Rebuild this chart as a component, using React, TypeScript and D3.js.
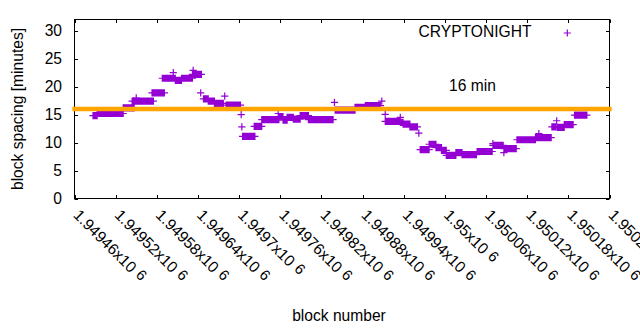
import React from 'react';
import * as d3 from 'd3';

// Runs of consecutive blocks sharing the same spacing value
const runStart = [1949487, 1949493, 1949531, 1949544, 1949573, 1949588, 1949607, 1949616, 1949632, 1949648, 1949655, 1949664, 1949681, 1949705, 1949722, 1949733, 1949758, 1949764, 1949770, 1949779, 1949789, 1949801, 1949840, 1949869, 1949884, 1949913, 1949935, 1949939, 1949949, 1949964, 1949977, 1949987, 1949995, 1950002, 1950016, 1950025, 1950047, 1950070, 1950086, 1950105, 1950132, 1950156, 1950164, 1950174, 1950189];
const runEnd = [1949493, 1949531, 1949547, 1949575, 1949591, 1949607, 1949616, 1949632, 1949645, 1949655, 1949664, 1949677, 1949702, 1949723, 1949733, 1949758, 1949764, 1949770, 1949779, 1949789, 1949801, 1949837, 1949869, 1949884, 1949906, 1949935, 1949939, 1949949, 1949960, 1949977, 1949987, 1949995, 1950002, 1950016, 1950025, 1950046, 1950069, 1950085, 1950104, 1950132, 1950155, 1950162, 1950174, 1950187, 1950207];
const runValue = [14.8, 15.2, 16.2, 17.4, 18.9, 21.5, 21.1, 21.5, 22.2, 17.8, 17.4, 17.0, 16.7, 11.1, 12.9, 14.1, 14.65, 14.0, 14.5, 14.2, 14.8, 14.1, 15.8, 16.3, 16.6, 13.8, 13.6, 13.3, 12.8, 8.75, 9.7, 9.1, 8.6, 7.7, 8.2, 7.85, 8.4, 9.5, 8.9, 10.5, 10.9, 12.8, 12.7, 13.2, 14.9];

// Isolated blocks
const singleBlock = [1949550, 1949604, 1949633, 1949644, 1949679, 1949703, 1949704, 1949757, 1949839, 1949908, 1949913, 1949935, 1949962, 1950070, 1950086, 1950137, 1950163];
const singleValue = [18.0, 22.5, 22.9, 18.9, 18.3, 15.0, 12.8, 15.2, 17.2, 17.4, 15.05, 14.5, 11.7, 9.8, 8.2, 11.6, 13.9];

const xTickValues = [1949460, 1949520, 1949580, 1949640, 1949700, 1949760, 1949820, 1949880, 1949940, 1950000, 1950060, 1950120, 1950180, 1950240];
const xTickLabels = ['1.94946', '1.94952', '1.94958', '1.94964', '1.9497', '1.94976', '1.94982', '1.94988', '1.94994', '1.95', '1.95006', '1.95012', '1.95018', '1.95024'];
const yTickValues = [0, 5, 10, 15, 20, 25, 30];

const targetSpacing = 16;
const seriesName = 'CRYPTONIGHT';
const targetLabel = '16 min';

const FONT = 'Liberation Sans, Arial, Helvetica, sans-serif';
const FS = 15.6;
const PURPLE = '#9400d3';
const ORANGE = '#ffa500';

export default function App() {
  const L = 74.5, R = 609.5, T = 19.5, B = 198.5;
  const x = d3.scaleLinear().domain([1949460, 1950240]).range([L, R]);
  const y = d3.scaleLinear().domain([0, 32]).range([B, T]);

  const points: { b: number; v: number }[] = [];
  runStart.forEach((s, i) => {
    for (let b = s; b <= runEnd[i]; b++) points.push({ b, v: runValue[i] });
  });
  singleBlock.forEach((b, i) => points.push({ b, v: singleValue[i] }));

  const h = 3.6;
  const plusPath = (cx: number, cy: number) =>
    `M${cx - h},${cy}h${2 * h}M${cx},${cy - h}v${2 * h}`;
  const dataPath = points.map((p) => plusPath(x(p.b), y(p.v))).join('');

  const tick = 3.5;

  return (
    <svg
      width={640}
      height={330}
      style={{ position: 'absolute', left: 0, top: 0, background: '#fff' }}
      fontFamily={FONT}
      fontSize={FS}
    >
      <rect x={0} y={0} width={640} height={330} fill="#fff" />
      {/* ticks */}
      <g stroke="#000" strokeWidth={1}>
        {xTickValues.map((t) => (
          <g key={'xt' + t}>
            <line x1={Math.round(x(t)) + 0.5} x2={Math.round(x(t)) + 0.5} y1={B} y2={B - tick} />
            <line x1={Math.round(x(t)) + 0.5} x2={Math.round(x(t)) + 0.5} y1={T} y2={T + tick} />
          </g>
        ))}
        {yTickValues.map((t) => (
          <g key={'yt' + t}>
            <line x1={L} x2={L + tick} y1={Math.round(y(t)) + 0.5} y2={Math.round(y(t)) + 0.5} />
            <line x1={R} x2={R - tick} y1={Math.round(y(t)) + 0.5} y2={Math.round(y(t)) + 0.5} />
          </g>
        ))}
      </g>
      <rect x={L} y={T} width={R - L} height={B - T} fill="none" stroke="#000" strokeWidth={1} />
      {/* y tick labels */}
      {yTickValues.map((t) => (
        <text key={'yl' + t} x={62} y={y(t)} dy="0.36em" textAnchor="end" fill="#000">
          {t}
        </text>
      ))}
      {/* x tick labels */}
      {xTickValues.map((t, i) => {
        const ax = x(t) - 2;
        const ay = 216;
        return (
          <text key={'xl' + t} x={ax} y={ay} transform={`rotate(45,${ax},${ay})`} fill="#000">
            {xTickLabels[i] + 'x10'}
            <tspan dx={5} dy={-2} fontSize={FS * 0.95}>6</tspan>
          </text>
        );
      })}
      {/* data */}
      <path d={dataPath} stroke={PURPLE} strokeWidth={1.2} fill="none" />
      {/* target line */}
      <line x1={L} x2={R} y1={y(targetSpacing)} y2={y(targetSpacing)} stroke={ORANGE} strokeWidth={4.3} strokeLinecap="square" />
      {/* legend */}
      <text x={531.5} y={37} textAnchor="end" fill="#000">{seriesName}</text>
      <path d={plusPath(567.3, 33)} stroke={PURPLE} strokeWidth={1.2} fill="none" />
      <text x={449} y={91} fill="#000">{targetLabel}</text>
      {/* axis titles */}
      <text x={339} y={321} textAnchor="middle" fill="#000">block number</text>
      <text transform={`translate(22.5,109) rotate(-90)`} textAnchor="middle" fill="#000">
        block spacing [minutes]
      </text>
    </svg>
  );
}
